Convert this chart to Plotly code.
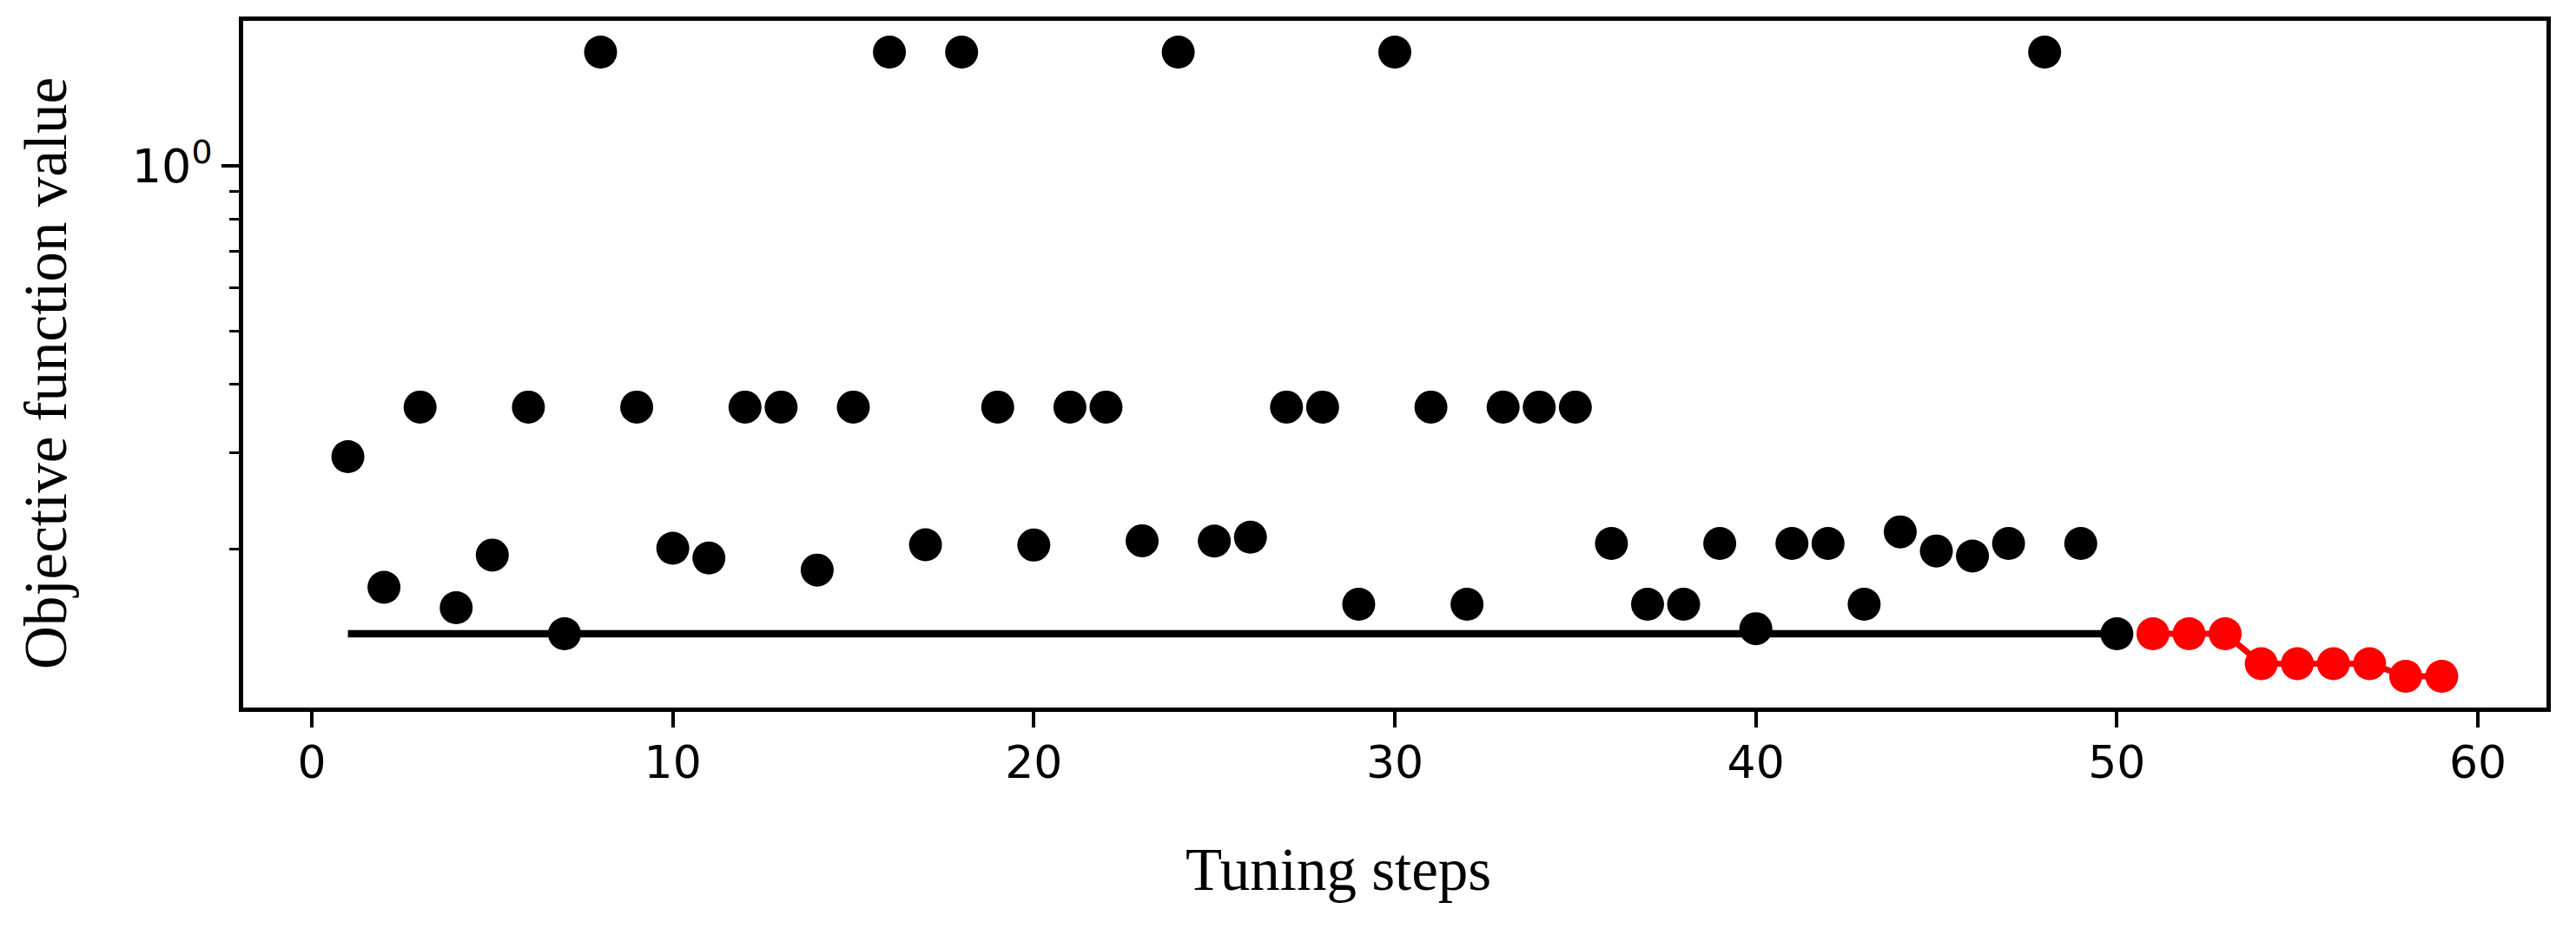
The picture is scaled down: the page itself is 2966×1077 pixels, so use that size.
import math

import plotly.graph_objects as go

# tuning history (step -> objective value)
steps = list(range(1, 51))
values = [
    0.2951, 0.1705, 0.3635, 0.1565, 0.1952, 0.3635, 0.1403, 1.615, 0.3635, 0.2009,
    0.1928, 0.3635, 0.3635, 0.1833, 0.3635, 1.615, 0.2038, 1.615, 0.3635, 0.2036,
    0.3635, 0.3635, 0.2073, 1.615, 0.2070, 0.2105, 0.3635, 0.3635, 0.1588, 1.615,
    0.3635, 0.1588, 0.3635, 0.3635, 0.3635, 0.2050, 0.1588, 0.1588, 0.2050, 0.1433,
    0.2050, 0.2050, 0.1588, 0.2152, 0.1986, 0.1944, 0.2050, 1.615, 0.2050, 0.1403,
]

# best value reached during the exploration phase
best_steps = [1, 50]
best_values = [0.1403, 0.1403]

# refinement phase
refine_steps = list(range(51, 60))
refine_values = [0.1403, 0.1403, 0.1403, 0.1237, 0.1237, 0.1237, 0.1237, 0.1173, 0.1173]

y_tick_vals = [1]
y_tick_text = ["10<sup>0</sup>"]
y_minor_vals = [0.2, 0.3, 0.4, 0.5, 0.6, 0.7, 0.8, 0.9]
x_tick_vals = [0, 10, 20, 30, 40, 50, 60]

# matplotlib-like 5% margins
all_x = steps + refine_steps
all_y = values + refine_values
x_pad = 0.05 * (max(all_x) - min(all_x))
log_lo, log_hi = math.log10(min(all_y)), math.log10(max(all_y))
y_pad = 0.05 * (log_hi - log_lo)

fig = go.Figure()

fig.add_trace(
    go.Scatter(
        x=best_steps,
        y=best_values,
        mode="lines",
        line={"color": "black", "width": 8.5},
        showlegend=False,
    )
)

fig.add_trace(
    go.Scatter(
        x=steps,
        y=values,
        mode="markers",
        marker={"size": 38, "color": "black"},
        showlegend=False,
    )
)

fig.add_trace(
    go.Scatter(
        x=refine_steps,
        y=refine_values,
        mode="lines+markers",
        line={"color": "#ff0000", "width": 7},
        marker={"size": 38, "color": "#ff0000"},
        showlegend=False,
    )
)

axis_common = {
    "showline": True,
    "linecolor": "black",
    "linewidth": 4.5,
    "mirror": True,
    "showgrid": False,
    "zeroline": False,
    "ticks": "outside",
    "tickcolor": "black",
    "tickwidth": 4,
}

fig.update_xaxes(
    range=[min(all_x) - x_pad, max(all_x) + x_pad],
    tickvals=x_tick_vals,
    ticklen=18,
    ticklabelstandoff=-4,
    tickfont={"family": "DejaVu Sans", "size": 52, "color": "black"},
    **axis_common,
)

fig.update_yaxes(
    type="log",
    range=[log_lo - y_pad, log_hi + y_pad],
    tickvals=y_tick_vals,
    ticktext=y_tick_text,
    ticklen=20,
    tickfont={"family": "DejaVu Sans", "size": 54, "color": "black"},
    minor={
        "tickvals": y_minor_vals,
        "ticks": "outside",
        "ticklen": 11,
        "tickwidth": 3,
        "tickcolor": "black",
        "showgrid": False,
    },
    **axis_common,
)

fig.add_annotation(
    text="Tuning steps",
    xref="paper",
    yref="paper",
    x=0.4755,
    y=-0.2362,
    xanchor="center",
    yanchor="middle",
    showarrow=False,
    font={"family": "Liberation Serif", "size": 69, "color": "black"},
)

fig.add_annotation(
    text="Objective function value",
    xref="paper",
    yref="paper",
    x=-0.0856,
    y=0.4868,
    xanchor="center",
    yanchor="middle",
    textangle=-90,
    showarrow=False,
    font={"family": "Liberation Serif", "size": 69, "color": "black"},
)

# the page body adds an 8px offset, so margins are trimmed on the top/left
fig.update_layout(
    width=2966,
    height=1077,
    autosize=False,
    plot_bgcolor="white",
    paper_bgcolor="white",
    margin={"l": 272, "r": 42, "t": 11, "b": 270},
)

fig.write_html("out.html")
